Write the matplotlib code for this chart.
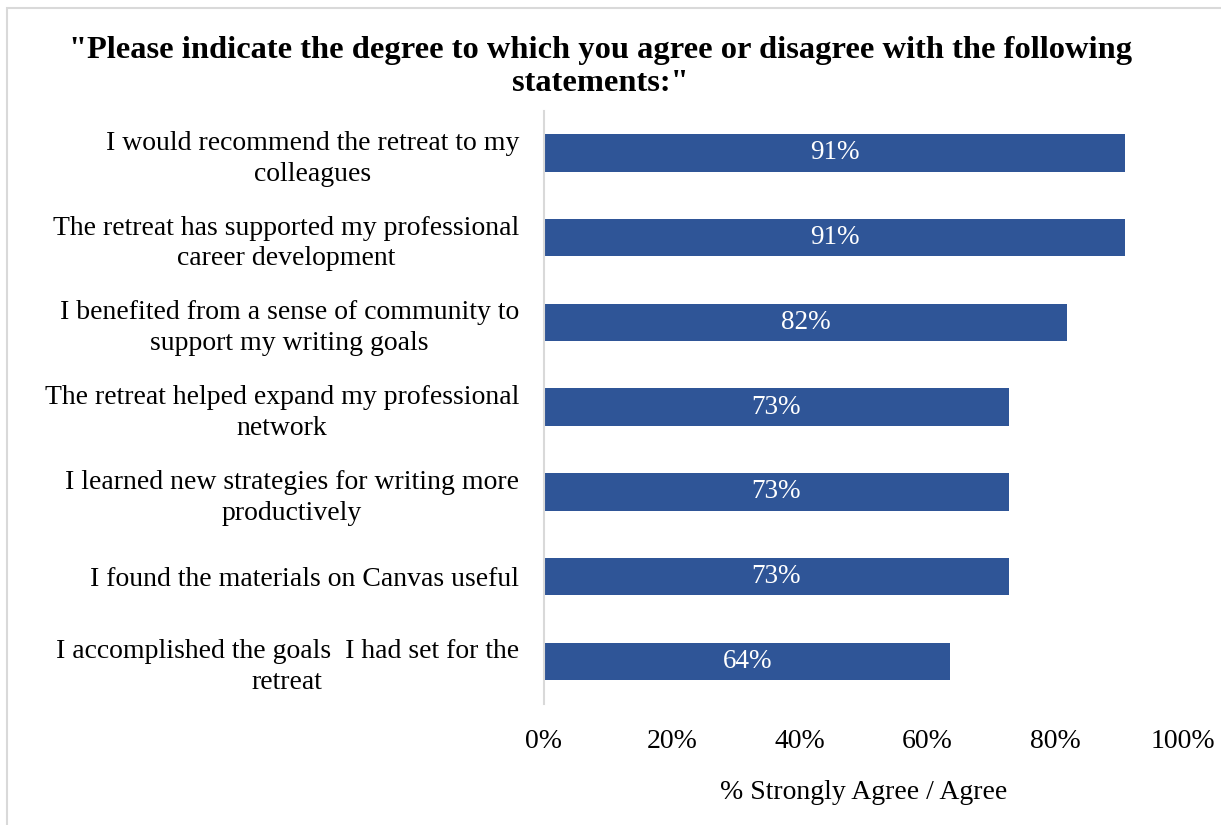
import matplotlib.pyplot as plt
from matplotlib.patches import Rectangle

plt.rcParams['font.family'] = ['Liberation Serif', 'DejaVu Serif']

# Survey statements, top to bottom
statements = [
    "I would recommend the retreat to my\ncolleagues",
    "The retreat has supported my professional\ncareer development",
    "I benefited from a sense of community to\nsupport my writing goals",
    "The retreat helped expand my professional\nnetwork",
    "I learned new strategies for writing more\nproductively",
    "I found the materials on Canvas useful",
    "I accomplished the goals  I had set for the\nretreat",
]
# share answering Strongly Agree / Agree (%)
agree_pct = [90.9, 90.9, 81.8, 72.7, 72.7, 72.7, 63.6]
xticks = [0, 20, 40, 60, 80, 100]

bar_color = '#2F5597'

fig = plt.figure(figsize=(12.21, 8.25), dpi=100)
ax = fig.add_axes([0.4455, 0.147, 0.5235, 0.719])

ypos = list(range(len(statements)))
ax.barh(ypos, agree_pct, height=0.44, color=bar_color)
for y, v in zip(ypos, agree_pct):
    ax.text(v / 2, y, f"{v:.0f}%", color='white', fontsize=19.5,
            ha='center', va='center')

ax.set_ylim(len(statements) - 0.5, -0.5)
ax.set_xlim(0, 100)
ax.set_yticks(ypos)
ax.set_yticklabels(statements, fontsize=20, ha='right', multialignment='center',
                   linespacing=1.3)
ax.tick_params(axis='y', length=0, pad=18)
ax.set_xticks(xticks)
ax.set_xticklabels([f"{t}%" for t in xticks], fontsize=20)
ax.tick_params(axis='x', length=0, pad=18)
ax.set_xlabel("% Strongly Agree / Agree", fontsize=20, labelpad=19)

for s in ['top', 'right', 'bottom']:
    ax.spines[s].set_visible(False)
ax.spines['left'].set_color('#D9D9D9')
ax.spines['left'].set_linewidth(1.5)

fig.text(0.492, 0.919, '"Please indicate the degree to which you agree or disagree with the following\nstatements:"',
         fontsize=23.4, fontweight='bold', ha='center', va='center', linespacing=1.18)

# light frame round the chart area
fig.patches.append(Rectangle((0.006, -0.05), 1.05, 1.04, transform=fig.transFigure,
                             fill=False, edgecolor='#D9D9D9', linewidth=1.5))

fig.savefig('out.png', dpi=100)
